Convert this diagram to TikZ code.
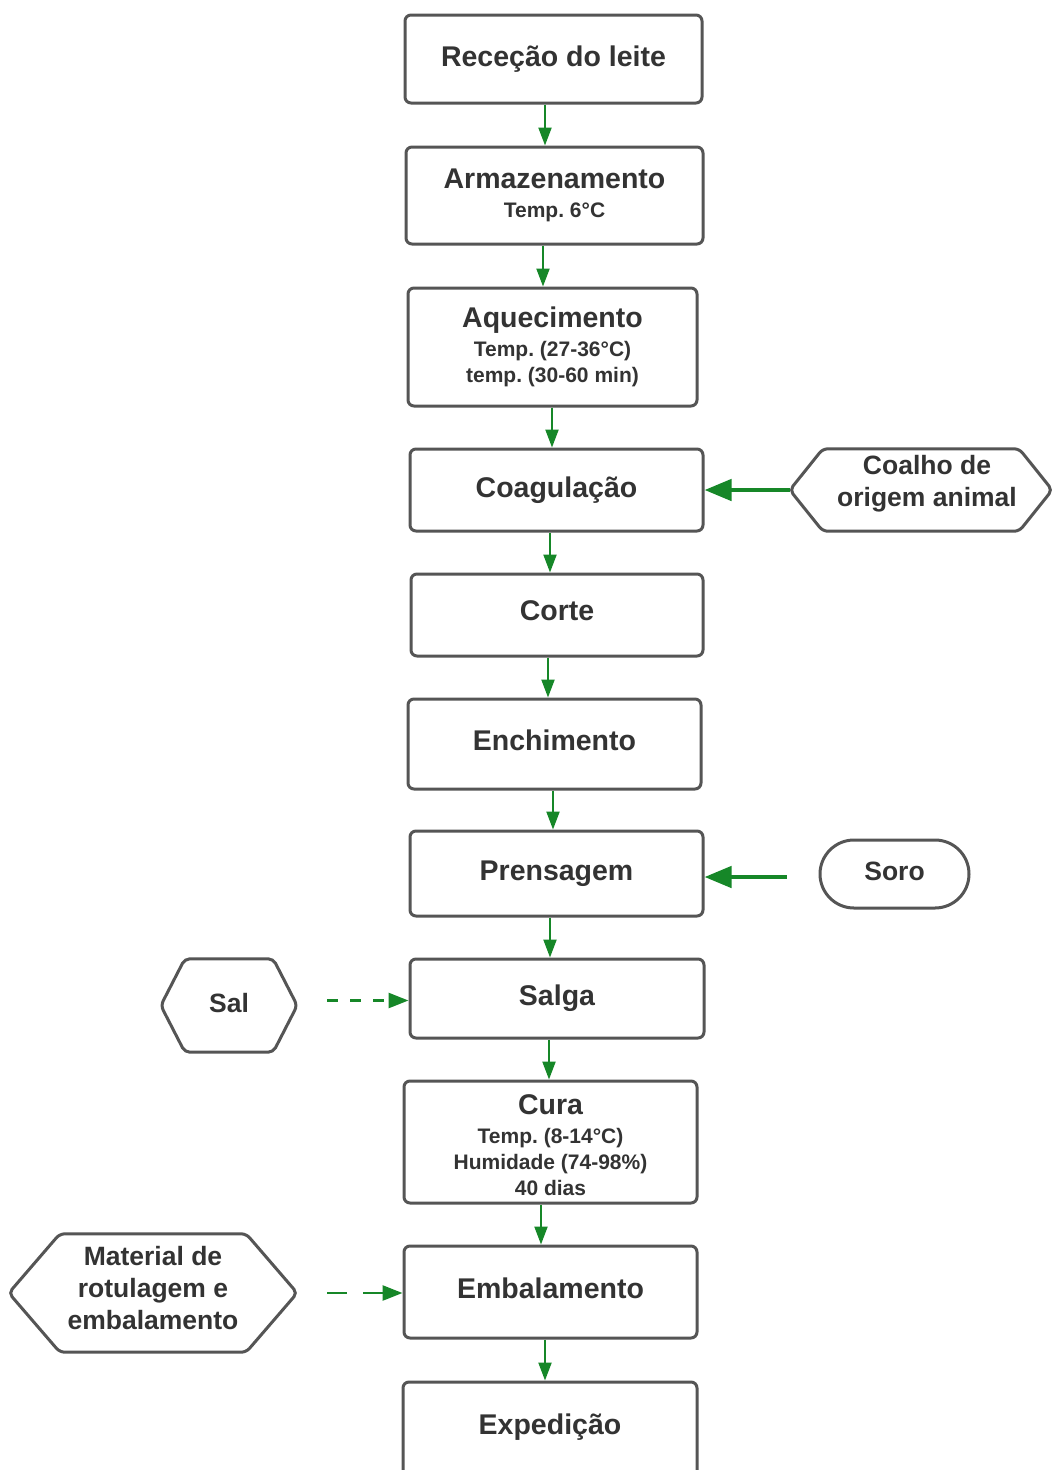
\documentclass[tikz,border=0pt]{standalone}
\usepackage{fontspec}
\setmainfont{Liberation Sans}
\usetikzlibrary{arrows.meta,calc}
\frenchspacing
\definecolor{flowgreen}{RGB}{22,135,40}
\definecolor{boxgray}{RGB}{85,85,85}
\definecolor{txtgray}{RGB}{51,51,51}
\newcommand\fTitle{\fontsize{28.5}{33}\selectfont\bfseries}
\newcommand\fSub{\fontsize{21}{26}\selectfont\bfseries}
\newcommand\fSide{\fontsize{26.5}{32}\selectfont\bfseries}
\newcommand\drawhex[2]{\draw[hexline] (#1.west) -- ([xshift=#2]#1.north west) -- ([xshift=-#2]#1.north east) -- (#1.east) -- ([xshift=-#2]#1.south east) -- ([xshift=#2]#1.south west) -- cycle;}
\begin{document}
\begin{tikzpicture}[x=1pt,y=-1pt,
  stepbox/.style={draw=boxgray,line width=3pt,rounded corners=6pt,fill=white,text=txtgray,align=center,inner sep=0pt,font=\fTitle},
  multibox/.style={stepbox,font=\fSub},
  hexshape/.style={draw=none,inner sep=0pt},
  hexline/.style={draw=boxgray,line width=3pt,rounded corners=5pt,fill=white},
  sidetext/.style={text=txtgray,align=center,inner sep=0pt,font=\fSide},
  flow/.style={draw=flowgreen,line width=2.2pt,-{Triangle[length=18pt,width=13pt]}},
  bigflow/.style={draw=flowgreen,line width=4.5pt,-{Triangle[length=27pt,width=21pt]}},
  dashflow/.style={draw=flowgreen,line width=2.6pt,-{Triangle[length=20pt,width=15pt]}},
]
\fill[white] (0,0) rectangle (1052,1470);
\useasboundingbox (0,0) rectangle (1052,1470);

% main process boxes
\node[stepbox,minimum width=297,minimum height=88] (n1) at (553.5,59) {Receção do leite};
\node[multibox,minimum width=297,minimum height=97] (n2) at (554.5,195.5) {{\fTitle Armazenamento}\\[3pt]Temp. 6°C};
\node[multibox,minimum width=289,minimum height=118] (n3) at (552.5,347) {{\fTitle Aquecimento}\\[3pt]Temp. (27-36°C)\\temp. (30-60 min)};
\node[stepbox,minimum width=293,minimum height=82] (n4) at (556.5,490) {Coagulação};
\node[stepbox,minimum width=292,minimum height=82] (n5) at (557,615) {\raisebox{8pt}{Corte}};
\node[stepbox,minimum width=293,minimum height=90] (n6) at (554.5,744) {\raisebox{7pt}{Enchimento}};
\node[stepbox,minimum width=293,minimum height=85] (n7) at (556.5,873.5) {Prensagem};
\node[stepbox,minimum width=294,minimum height=79] (n8) at (557,998.5) {Salga};
\node[multibox,minimum width=293,minimum height=122] (n9) at (550.5,1142) {{\fTitle\rule{0pt}{27pt}Cura}\\[3pt]Temp. (8-14°C)\\Humidade (74-98\%)\\40 dias};
\node[stepbox,minimum width=293,minimum height=92] (n10) at (550.5,1292) {\raisebox{7pt}{Embalamento}};
\node[stepbox,minimum width=294,minimum height=96] (n11) at (550,1430) {};
\node[text=txtgray,font=\fTitle,inner sep=0pt] (n11t) at (550,1427) {Expedição};

% side inputs
\node[hexshape,minimum width=262,minimum height=82] (coalho) at (921,490) {};
\drawhex{coalho}{33}
\node[sidetext] (coalhot) at (927,484) {Coalho de\\origem animal};

\node[draw=boxgray,line width=3pt,rounded corners=34pt,minimum width=149,minimum height=68,inner sep=0pt,text=txtgray,font=\fSide] (soro) at (894.5,874) {\raisebox{6pt}{Soro}};

\node[hexshape,minimum width=136,minimum height=93] (sal) at (229,1005.5) {};
\drawhex{sal}{24}
\node[sidetext] (salt) at (229,1003) {Sal};

\node[hexshape,minimum width=288,minimum height=118] (mat) at (153,1293) {};
\drawhex{mat}{51}
\node[sidetext] (matt) at (153,1288) {Material de\\rotulagem e\\embalamento};

% vertical flow
\draw[flow] ([xshift=-8.5]n1.south) -- ([xshift=-8.5]n1.south |- n2.north);
\draw[flow] ([xshift=-11.5]n2.south) -- ([xshift=-11.5]n2.south |- n3.north);
\draw[flow] ([xshift=-0.5]n3.south) -- ([xshift=-0.5]n3.south |- n4.north);
\draw[flow] ([xshift=-6.5]n4.south) -- ([xshift=-6.5]n4.south |- n5.north);
\draw[flow] ([xshift=-9]n5.south) -- ([xshift=-9]n5.south |- n6.north);
\draw[flow] ([xshift=-1.5]n6.south) -- ([xshift=-1.5]n6.south |- n7.north);
\draw[flow] ([xshift=-6.5]n7.south) -- ([xshift=-6.5]n7.south |- n8.north);
\draw[flow] ([xshift=-8]n8.south) -- ([xshift=-8]n8.south |- n9.north);
\draw[flow] ([xshift=-9.5]n9.south) -- ([xshift=-9.5]n9.south |- n10.north);
\draw[flow] ([xshift=-5.5]n10.south) -- ([xshift=-5.5]n10.south |- n11.north);

% side flows
\draw[bigflow] (coalho.west) -- (coalho.west -| n4.east);
\draw[bigflow,shorten <=32pt] ([yshift=-3]soro.west) -- ([yshift=-3]soro.west -| n7.east);
\draw[dashflow,dash pattern=on 11pt off 12pt,shorten <=30pt] ([yshift=5]sal.east) -- ([yshift=5]sal.east -| n8.west);
\draw[dashflow,dash pattern=on 20pt off 16pt,shorten <=30pt] (mat.east) -- (mat.east -| n10.west);
\end{tikzpicture}
\end{document}
